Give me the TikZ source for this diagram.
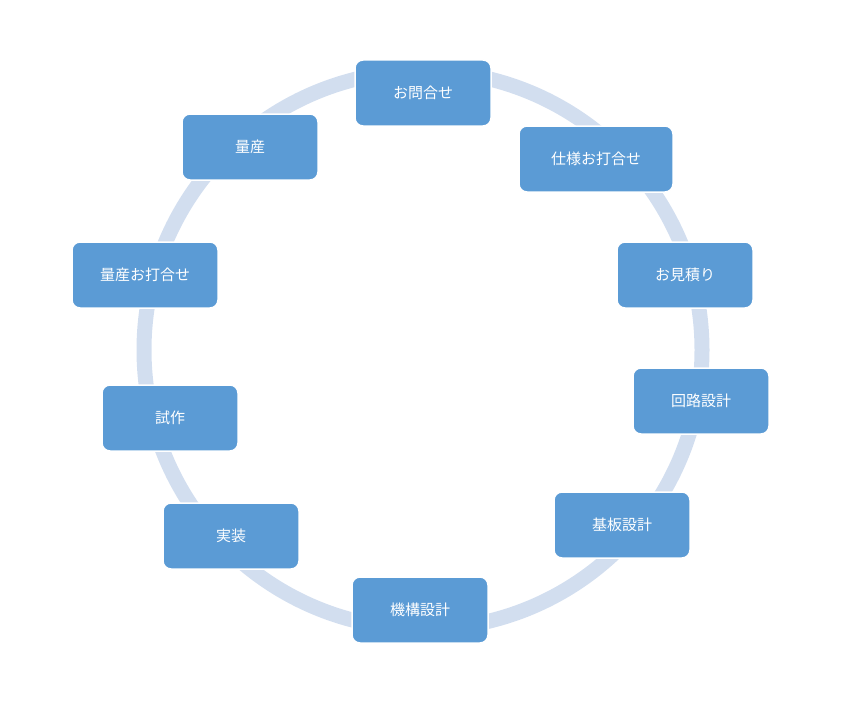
\documentclass[tikz,border=0pt]{standalone}
\usepackage{fontspec}
\newfontfamily\cjk{Noto Sans CJK JP}
\definecolor{boxc}{HTML}{5B9BD5}
\definecolor{ringc}{HTML}{D2DEEF}
\begin{document}
\begin{tikzpicture}[x=1pt,y=-1pt,
  stepbox/.style={draw=white,line width=1.5pt,fill=boxc,rounded corners=8pt,text=white,font=\cjk\fontsize{15}{18}\selectfont,inner sep=0pt}]
\useasboundingbox (0,0) rectangle (854,701);
\draw[ringc,line width=15pt] (423,350) circle (279);
\foreach \n/\a/\b/\c/\d/\t in {
 a/355/60/491/126/お問合せ,
 b/519/126/673/192/仕様お打合せ,
 c/617/242/753/308/お見積り,
 d/633/368/769/434/回路設計,
 e/554/492/690/558/基板設計,
 f/352/577/488/643/機構設計,
 g/163/503/299/569/実装,
 h/102/385/238/451/試作,
 i/72/242/218/308/量産お打合せ,
 j/182/114/318/180/量産}{
 \node[stepbox,minimum width={\c-\a},minimum height={\d-\b}] (\n) at ({(\a+\c)/2},{(\b+\d)/2}) {\t};
}
\end{tikzpicture}
\end{document}
